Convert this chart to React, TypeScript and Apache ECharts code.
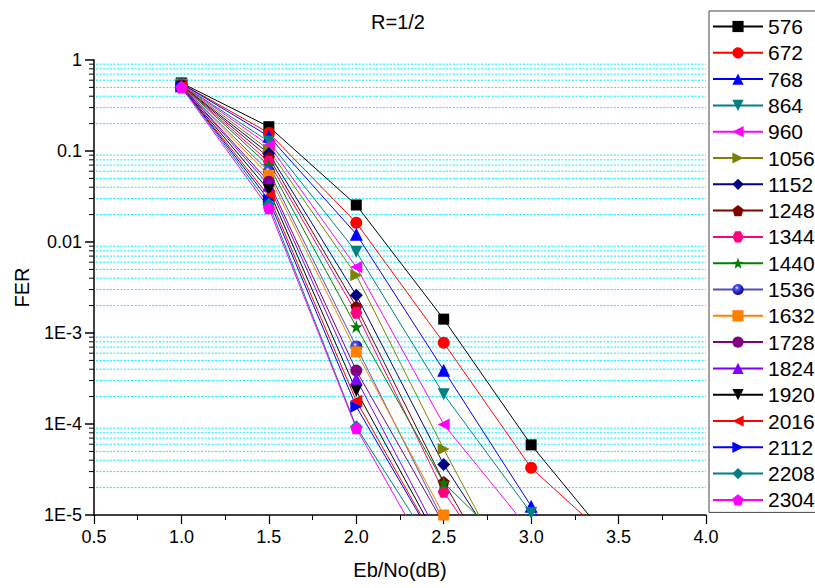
import React, { useEffect, useRef } from "react";
import * as echarts from "echarts";

const xValues = [1.0, 1.5, 2.0, 2.5, 3.0, 3.5];

const seriesNames = [
  "576", "672", "768", "864", "960", "1056", "1152", "1248", "1344", "1440",
  "1536", "1632", "1728", "1824", "1920", "2016", "2112", "2208", "2304",
];

const fer576 = [0.56, 0.185, 0.0255, 0.00142, 5.9e-5, 4.0e-6];
const fer672 = [0.55, 0.158, 0.0163, 0.00078, 3.3e-5, 4.4e-6];
const fer768 = [0.55, 0.145, 0.0122, 0.00039, 1.25e-5, 4e-7];
const fer864 = [0.54, 0.127, 0.0078, 0.000212, 1.05e-5, 3e-7];
const fer960 = [0.54, 0.116, 0.0053, 9.9e-5, 6.5e-6];
const fer1056 = [0.54, 0.103, 0.0043, 5.3e-5, 8.4e-7];
const fer1152 = [0.53, 0.094, 0.0026, 3.6e-5, 1.2e-6];
const fer1248 = [0.53, 0.085, 0.00195, 2.3e-5, 5e-7];
const fer1344 = [0.53, 0.076, 0.00167, 1.8e-5, 7e-7];
const fer1440 = [0.53, 0.069, 0.00117, 2.26e-5, 2.6e-6];
const fer1536 = [0.52, 0.06, 0.00071, 8.5e-6];
const fer1632 = [0.52, 0.054, 0.00062, 1.0e-5];
const fer1728 = [0.52, 0.046, 0.000386, 8e-6];
const fer1824 = [0.52, 0.042, 0.000312, 4.7e-6];
const fer1920 = [0.51, 0.037, 0.000232, 4.1e-6];
const fer2016 = [0.51, 0.032, 0.00018, 3.6e-6];
const fer2112 = [0.51, 0.029, 0.000155, 3.5e-6];
const fer2208 = [0.51, 0.026, 9.3e-5, 2.9e-6];
const fer2304 = [0.5, 0.0235, 9.0e-5, 1.8e-6];

const ferValues = [
  fer576, fer672, fer768, fer864, fer960, fer1056, fer1152, fer1248, fer1344, fer1440,
  fer1536, fer1632, fer1728, fer1824, fer1920, fer2016, fer2112, fer2208, fer2304,
];

const yTickLabels: Record<string, string> = {
  "1": "1",
  "0.1": "0.1",
  "0.01": "0.01",
  "0.001": "1E-3",
  "0.0001": "1E-4",
  "0.00001": "1E-5",
};

const SQUARE = "rect";
const CIRCLE = "circle";
const TRI_UP = "triangle";
const TRI_DOWN = "path://M-10,-9 L10,-9 L0,9 Z";
const TRI_LEFT = "path://M-9,0 L9,-10 L9,10 Z";
const TRI_RIGHT = "path://M9,0 L-9,-10 L-9,10 Z";
const DIAMOND = "diamond";
const PENTAGON = "path://M0,-10 L9.51,-3.09 L5.88,8.09 L-5.88,8.09 L-9.51,-3.09 Z";
const HEXAGON = "path://M-5,-8.66 L5,-8.66 L10,0 L5,8.66 L-5,8.66 L-10,0 Z";
const STAR =
  "path://M0,-10 L2.35,-3.24 L9.51,-3.09 L3.8,1.24 L5.88,8.09 L0,4 L-5.88,8.09 L-3.8,1.24 L-9.51,-3.09 L-2.35,-3.24 Z";

const sphere = {
  type: "radial",
  x: 0.4,
  y: 0.35,
  r: 0.65,
  colorStops: [
    { offset: 0, color: "#ffffff" },
    { offset: 0.25, color: "#5050ff" },
    { offset: 1, color: "#000080" },
  ],
};

const styles: { symbol: string; color: any; line?: string; size?: number }[] = [
  { symbol: SQUARE, color: "#000000", size: 11 },
  { symbol: CIRCLE, color: "#ff0000" },
  { symbol: TRI_UP, color: "#0000ff", size: 13 },
  { symbol: TRI_DOWN, color: "#008080" },
  { symbol: TRI_LEFT, color: "#ff00ff" },
  { symbol: TRI_RIGHT, color: "#808000" },
  { symbol: DIAMOND, color: "#000080", size: 13 },
  { symbol: PENTAGON, color: "#800000" },
  { symbol: HEXAGON, color: "#ff0080" },
  { symbol: STAR, color: "#008000", size: 13 },
  { symbol: CIRCLE, color: sphere, line: "#5050c0" },
  { symbol: SQUARE, color: "#ff8000", size: 11 },
  { symbol: CIRCLE, color: "#800080" },
  { symbol: TRI_UP, color: "#8000ff", size: 13 },
  { symbol: TRI_DOWN, color: "#000000" },
  { symbol: TRI_LEFT, color: "#ff0000" },
  { symbol: TRI_RIGHT, color: "#0000ff" },
  { symbol: DIAMOND, color: "#008080", size: 13 },
  { symbol: PENTAGON, color: "#ff00ff" },
];

const minorGridValues: number[] = [];
for (let e = -5; e <= -1; e++) {
  for (let k = 2; k <= 9; k++) minorGridValues.push(k * Math.pow(10, e));
}

const FONT = 'Arial, "Liberation Sans", Helvetica, sans-serif';

export default function App() {
  const ref = useRef<HTMLDivElement>(null);

  useEffect(() => {
    document.body.style.margin = "0";
    if (!ref.current) return;
    const chart = echarts.init(ref.current, undefined, { renderer: "svg" });

    const lineSeries = seriesNames.map((name, i) => {
      const st = styles[i];
      const lineColor = st.line || st.color;
      return {
        name,
        type: "line",
        data: ferValues[i].map((v, j) => [xValues[j], v]),
        symbol: st.symbol,
        symbolSize: st.size || 12,
        showSymbol: true,
        clip: true,
        z: 3,
        itemStyle: { color: st.color, borderWidth: 0 },
        lineStyle: { color: lineColor, width: 1 },
        emphasis: { disabled: true },
      };
    });

    const gridSeries = {
      type: "custom",
      silent: true,
      clip: false,
      z: 1,
      data: minorGridValues.map((v) => [0.5, v]),
      renderItem: (params: any, api: any) => {
        const v = api.value(1);
        const pt = api.coord([0.5, v]);
        const cs = params.coordSys;
        return {
          type: "group",
          children: [
            {
              type: "line",
              shape: { x1: cs.x + 2, y1: pt[1], x2: cs.x + cs.width, y2: pt[1] },
              style: { stroke: "#00f0ff", lineWidth: 1, lineDash: [2, 1.5] },
            },
            {
              type: "line",
              shape: { x1: cs.x - 5, y1: pt[1], x2: cs.x, y2: pt[1] },
              style: { stroke: "#000000", lineWidth: 1 },
            },
          ],
        };
      },
    };

    chart.setOption({
      animation: false,
      backgroundColor: "#ffffff",
      title: {
        text: "R=1/2",
        left: 393,
        textAlign: "center",
        top: 7,
        textStyle: { fontFamily: FONT, fontSize: 20, fontWeight: "normal", color: "#000" },
      },
      legend: {
        data: seriesNames,
        orient: "vertical",
        left: 709,
        top: 11,
        padding: [5, 40, 2, 3],
        itemWidth: 50,
        itemHeight: 14,
        itemGap: 5.3,
        borderColor: "#444",
        borderWidth: 1,
        backgroundColor: "#fff",
        textStyle: { fontFamily: FONT, fontSize: 21, lineHeight: 21, color: "#000" },
        selectedMode: false,
      },
      grid: { left: 94, right: 109, top: 60, bottom: 73, containLabel: false },
      xAxis: {
        type: "value",
        min: 0.5,
        max: 4.0,
        interval: 0.5,
        name: "Eb/No(dB)",
        nameLocation: "middle",
        nameGap: 45,
        nameTextStyle: { fontFamily: FONT, fontSize: 20, color: "#000" },
        axisLine: { show: true, onZero: false, lineStyle: { color: "#000", width: 1.5 } },
        axisTick: { show: true, inside: false, length: 9, lineStyle: { color: "#000", width: 1.2 } },
        minorTick: { show: true, splitNumber: 2, length: 5, lineStyle: { color: "#000", width: 1 } },
        splitLine: { show: false },
        axisLabel: {
          fontFamily: FONT,
          fontSize: 18,
          color: "#000",
          margin: 13,
          formatter: (v: number) => v.toFixed(1),
        },
      },
      yAxis: {
        type: "log",
        logBase: 10,
        min: 1e-5,
        max: 1,
        name: "FER",
        nameLocation: "middle",
        nameGap: 62,
        nameTextStyle: { fontFamily: FONT, fontSize: 20, color: "#000" },
        axisLine: { show: true, onZero: false, lineStyle: { color: "#000", width: 1.5 } },
        axisTick: { show: true, inside: false, length: 9, lineStyle: { color: "#000", width: 1.5 } },
        splitLine: { show: false },
        axisLabel: {
          fontFamily: FONT,
          fontSize: 18,
          color: "#000",
          margin: 12,
          formatter: (v: number) => {
            const key = String(Number(v.toPrecision(3)));
            if (yTickLabels[key]) return yTickLabels[key];
            const e = Math.round(Math.log10(v));
            return e >= -2 ? String(Math.pow(10, e)) : "1E" + e;
          },
        },
      },
      series: [gridSeries, ...lineSeries],
    });

    return () => chart.dispose();
  }, []);

  return <div ref={ref} style={{ width: 815, height: 588 }} />;
}
